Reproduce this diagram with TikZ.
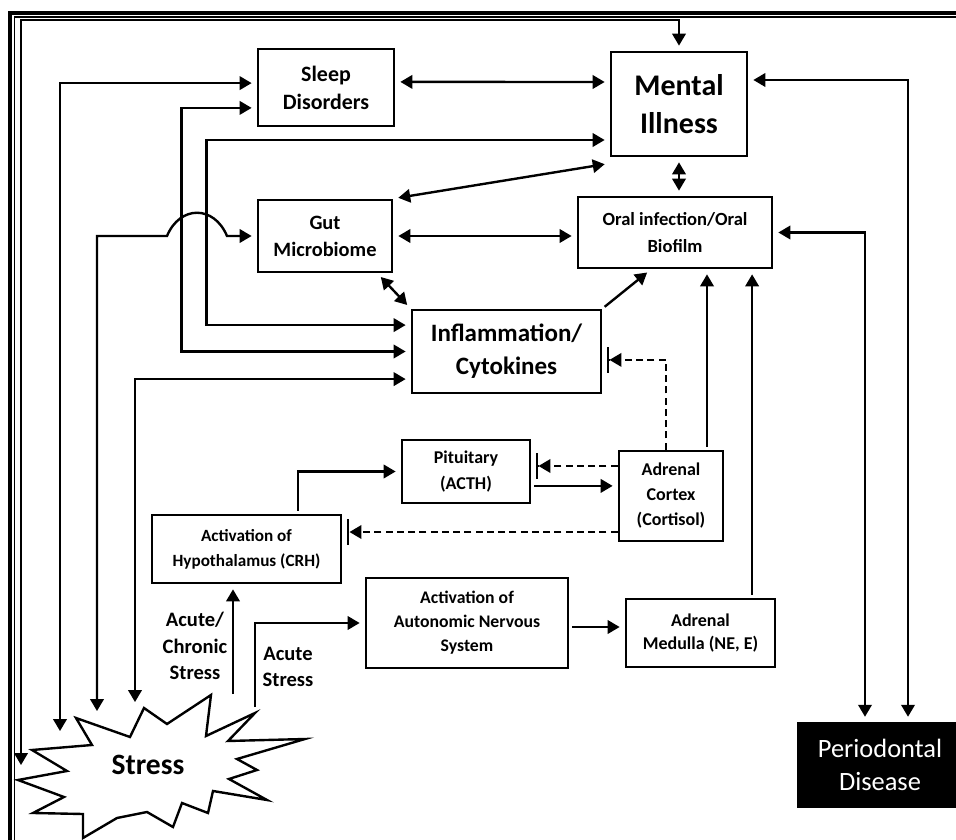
\documentclass[tikz,border=0pt]{standalone}
\usepackage{fontspec}
\setmainfont{Carlito}
\usetikzlibrary{arrows.meta, positioning}
\tikzset{
	box/.style = {rectangle, draw = black, line width = 2pt, fill = white, text centered, align = center, inner sep = 0pt},
	dark/.style = {rectangle, fill = black, text = white, text centered, align = center, inner sep = 0pt},
	tag/.style = {align = center, inner sep = 0pt, font = \bfseries\fontsize{14.6}{19}\selectfont},
	arrow/.style = {-{Triangle[length = 8.5pt, width = 9.5pt]}, draw = black, line width = 1.7pt, shorten > = 3.5pt, shorten < = 2pt},
	twoway/.style = {{Triangle[length = 8.5pt, width = 9.5pt]}-{Triangle[length = 8.5pt, width = 9.5pt]}, draw = black, line width = 1.7pt, shorten > = 3.5pt, shorten < = 3.5pt},
	inhibit/.style = {-{Triangle[length = 8.5pt, width = 9.5pt] Bar[width = 18pt, line width = 2pt]}, draw = black, line width = 1.7pt, dash pattern = on 5pt off 3pt, shorten > = 3pt}
}

\begin{document}
\begin{tikzpicture}[x = 0.025cm, y = -0.025cm]
	\useasboundingbox (0,0) rectangle (956,840);

	%% frame
	\draw [line width = 2.2pt] (10,840) |- (956,13);
	\draw [line width = 0.8pt] (14.5,840) |- (956,17);

	%% stress
	\draw [line width = 1.7pt, fill = white] (18,780) -- (67,771) -- (32,750) -- (92,745) -- (76,718) -- (130,737) -- (144,708) -- (167,724) -- (211,695) -- (206,736) -- (255,713) -- (228,741) -- (305,739) -- (237,759) -- (257,770) -- (229,779) -- (267,800) -- (213,791) -- (208,813) -- (182,803) -- (173,827) -- (147,812) -- (117,818) -- (83,838) -- (83,814) -- (33,813) -- (64,797) -- cycle;
	\node (stress) [font = \bfseries\fontsize{21}{25}\selectfont] at (148,765) {Stress};
	% ends on the star
	\coordinate (st0) at (21,770);
	\coordinate (st1) at (60,736);
	\coordinate (st2) at (97,716);
	\coordinate (st3) at (135,707);
	\coordinate (st4) at (233,697);
	\coordinate (st5) at (255,710);
	\coordinate (rim) at (0,20);

	% main nodes
	\node (sleep) [box, minimum width = 3.4cm, minimum height = 1.925cm, font = \bfseries\fontsize{15.6}{20}\selectfont] at (326,87.5) {Sleep\\Disorders};
	\node (mental) [box, minimum width = 3.4cm, minimum height = 2.6cm, font = \bfseries\fontsize{21.3}{27}\selectfont] at (679,104) {Mental\\Illness};
	\node (gut) [box, minimum width = 3.35cm, minimum height = 1.8cm, font = \bfseries\fontsize{14.5}{19.2}\selectfont] at (325,236) {Gut\\Microbiome};
	\node (oral) [box, minimum width = 4.85cm, minimum height = 1.775cm, font = \bfseries\fontsize{13.2}{19}\selectfont] at (675,232.5) {Oral infection/Oral\\Biofilm};
	\node (inflam) [box, minimum width = 4.725cm, minimum height = 2.075cm, font = \bfseries\fontsize{17.8}{23.7}\selectfont] at (506.5,351.5) {Inflammation/\\Cytokines};

	% axis nodes
	\node (pit) [box, minimum width = 3.2cm, minimum height = 1.575cm, font = \bfseries\fontsize{12.8}{19}\selectfont] at (466,471.5) {Pituitary\\(ACTH)};
	\node (hypo) [box, minimum width = 4.725cm, minimum height = 1.7cm, font = \bfseries\fontsize{12.2}{17.8}\selectfont] at (246.5,549) {Activation of\\Hypothalamus (CRH)};
	\node (cortex) [box, minimum width = 2.6cm, minimum height = 2.25cm, font = \bfseries\fontsize{12.8}{17.8}\selectfont] at (671,496) {Adrenal\\Cortex\\(Cortisol)};
	\node (ans) [box, minimum width = 5.05cm, minimum height = 2.25cm, font = \bfseries\fontsize{12.6}{17}\selectfont] at (467,623) {Activation of\\Autonomic Nervous\\System};
	\node (medulla) [box, minimum width = 3.725cm, minimum height = 1.7cm, font = \bfseries\fontsize{12.8}{16.6}\selectfont] at (700.5,633) {Adrenal\\Medulla (NE, E)};

	% result node
	\node (perio) [dark, minimum width = 4.15cm, minimum height = 2.15cm, font = \fontsize{18.8}{23.7}\selectfont] at (880,765) {Periodontal\\Disease};

	% labels
	\node (chronic) [tag] at (195,646) {Acute/\\Chronic\\Stress};
	\node (acute) [tag] at (288,667) {Acute\\Stress};

	%%% arrows %%%
	% left lanes
	\draw [twoway] (st0) -- (st0 |- rim) -| (mental.north);
	\draw [twoway] (st1) |- ([yshift = 0.11cm]sleep.west);
	\draw [twoway] ([yshift = -0.51cm]sleep.west) -- ++(-75,0) |- (inflam.west);
	\draw [twoway] ([yshift = -0.9cm]mental.west) -- ++(-403,0) |- ([yshift = 0.66cm]inflam.west);
	\draw [twoway] (st2) |- (167,236) .. controls (180,205) and (214,205) .. (227,236) -- (gut.west);
	\draw [twoway] (st3) |- ([yshift = -0.69cm]inflam.west);

	% right lanes
	\draw [twoway] ([yshift = 0.6cm]mental.east) -| ([xshift = 0.7cm]perio.north);
	\draw [twoway] (oral.east) -| ([xshift = -0.375cm]perio.north);

	% middle
	\draw [twoway] ([yshift = 0.14cm]sleep.east) -- ([yshift = 0.55cm]mental.west);
	\draw [twoway] (gut.north east) -- ([yshift = -0.15cm]mental.south west);
	\draw [twoway] (gut.east) -- (gut.east -| oral.west);
	\draw [twoway] ([xshift = -0.4cm]gut.south east) -- (inflam.north west);
	\draw [arrow] (inflam.north east) -- ([xshift = -0.6cm]oral.south);
	\draw [twoway] (mental.south) -- (mental.south |- oral.north);
	\draw [arrow] ([xshift = 0.9cm]cortex.north) -- ([xshift = 0.9cm]cortex.north |- oral.south);
	\draw [arrow] ([xshift = 1.29cm]medulla.north) -- ([xshift = 1.29cm]medulla.north |- oral.south);

	% axis
	\draw [inhibit] ([xshift = -0.125cm]cortex.north) |- ([yshift = -0.21cm]inflam.east);
	\draw [inhibit] ([yshift = 0.75cm]cortex.west) -- ([yshift = 0.75cm]cortex.west -| pit.east);
	\draw [arrow] ([yshift = -0.36cm]pit.east) -- ([yshift = -0.36cm]pit.east -| cortex.west);
	\draw [inhibit] ([yshift = -0.9cm]cortex.west) -- ([yshift = -0.9cm]cortex.west -| hypo.east);
	\draw [arrow] ([xshift = 1.29cm]hypo.north) |- (pit.west);
	\draw [arrow] (st4) -- (st4 |- hypo.south);
	\draw [arrow] (st5) |- (ans.west);
	\draw [arrow] ([yshift = -0.1cm]ans.east) -- ([yshift = -0.1cm]ans.east -| medulla.west);
\end{tikzpicture}
\end{document}
